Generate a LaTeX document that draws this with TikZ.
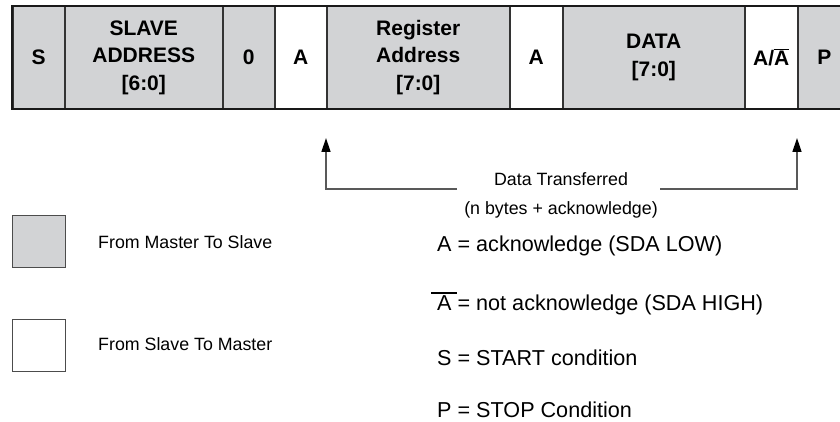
\documentclass[tikz,border=0pt]{standalone}
\usepackage{fontspec}
\setmainfont{Liberation Sans}
\usetikzlibrary{arrows.meta,calc}
\definecolor{cellgray}{RGB}{210,211,213}
\begin{document}
\begin{tikzpicture}[x=1pt,y=-1pt,
  cell/.style={draw=black!80, line width=1.5pt, fill=cellgray, minimum height=103pt,
    inner sep=0pt, anchor=west, align=center,
    font=\bfseries\fontsize{21}{27.5}\selectfont},
  wcell/.style={cell, fill=white},
  legbox/.style={draw=black!70, line width=1pt, minimum width=53pt, minimum height=52pt, inner sep=0pt, anchor=north west},
  legtext/.style={anchor=west, inner sep=0pt, font=\fontsize{17.8}{21}\selectfont},
  deftext/.style={anchor=west, inner sep=0pt, font=\fontsize{21.6}{26}\selectfont},
  arr/.style={draw=black!65, line width=1.5pt, -{Triangle[length=14pt,width=9pt,fill=black,color=black]}}
]
\useasboundingbox (0,0) rectangle (840,422);
\begin{scope}
\clip (0,0) rectangle (840,422);
\node[cell, minimum width=52pt] (s) at (12,57.5) {S};
\node[cell, minimum width=158pt] (sa) at (64,57.5) {SLAVE\\ADDRESS\\{}[6:0]};
\node[cell, minimum width=52pt] (zero) at (222,57.5) {0};
\node[wcell, minimum width=52pt] (a1) at (274,57.5) {A};
\node[cell, minimum width=183pt] (ra) at (326,57.5) {Register\\Address\\{}[7:0]};
\node[wcell, minimum width=53pt] (a2) at (509,57.5) {A};
\node[cell, minimum width=182pt] (data) at (562,57.5) {DATA\\{}[7:0]};
\node[wcell, minimum width=53pt] (a3) at (744,57.5) {A/$\overline{\mbox{A}}$};
\node[cell, minimum width=53pt] (p) at (797,57.5) {P};
\draw[line width=2.5pt, black!90] (850,6) -- (12,6) -- (12,109) -- (850,109);
\end{scope}

% data transferred arrows
\node[align=center, inner sep=0pt, font=\fontsize{17.8}{29}\selectfont] (dt) at (561,195) {Data Transferred\\(n bytes + acknowledge)};
\coordinate (ll) at (457,189);
\coordinate (rl) at (660,189);
\coordinate (lt) at (326,138);
\coordinate (rt) at (797,138);
\draw[arr] (ll) -| (lt);
\draw[arr] (rl) -| (rt);

% legend boxes
\node[legbox, fill=cellgray] (gbox) at (12,215) {};
\node[legbox, fill=white] (wbox) at (12,319) {};
\node[legtext] (m2s) at (98,242) {From Master To Slave};
\node[legtext] (s2m) at (98,344) {From Slave To Master};

% definitions
\node[deftext] (dA) at (437,246) {A = acknowledge (SDA LOW)};
\node[deftext] (dNA) at (437,305) {A = not acknowledge (SDA HIGH)};
\draw[line width=1.3pt] ($(dNA.west)+(-6,-12)$) coordinate (ol1) -- ++(26,0) coordinate (ol2);
\node[deftext] (dS) at (437,358) {S = START condition};
\node[deftext] (dP) at (437,409.5) {P = STOP Condition};
\end{tikzpicture}
\end{document}
